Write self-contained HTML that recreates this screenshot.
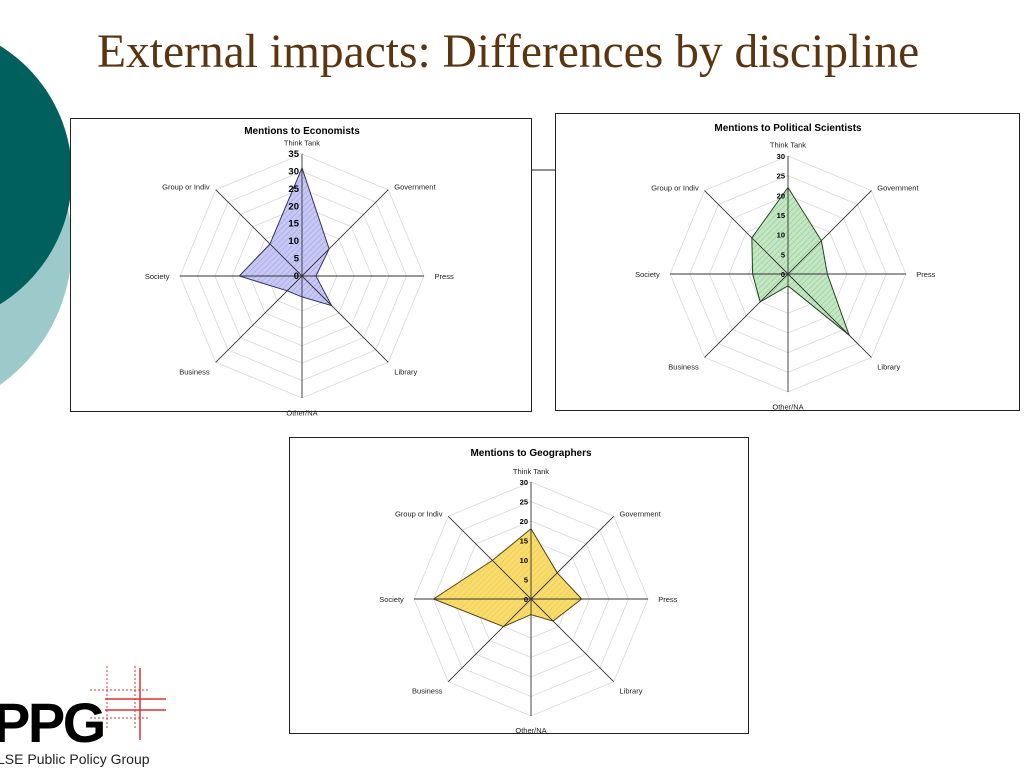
<!DOCTYPE html>
<html><head><meta charset="utf-8"><style>
body{margin:0;width:1024px;height:768px;overflow:hidden;background:#fff;position:relative;font-family:"Liberation Sans",sans-serif}
.box{position:absolute;border:1px solid #222;background:#fff;box-sizing:border-box}
</style></head><body>
<svg width="1024" height="768" style="position:absolute;left:0;top:0">
<circle cx="-100" cy="245" r="172" fill="#9ccaca"/>
<circle cx="-80" cy="175" r="152" fill="#00605d"/>
<line x1="532" y1="170" x2="555" y2="170" stroke="#222" stroke-width="1"/>
</svg>
<div style="position:absolute;left:97px;top:25px;font-family:'Liberation Serif',serif;font-size:47.5px;color:#5a3510;white-space:nowrap">External impacts: Differences by discipline</div>
<div class="box" style="left:70px;top:118px;width:462px;height:294px"></div>
<div class="box" style="left:555px;top:113px;width:465px;height:298px"></div>
<div class="box" style="left:289px;top:437px;width:460px;height:297px"></div>
<svg id="charts" width="1024" height="768" style="position:absolute;left:0;top:0">
<defs>
<pattern id="hb" width="4" height="4" patternUnits="userSpaceOnUse" patternTransform="rotate(45)"><rect width="4" height="4" fill="#c8c8f4"/><line x1="0" y1="0" x2="0" y2="4" stroke="#a8a8ec" stroke-width="1.5"/></pattern>
<pattern id="hg" width="4" height="4" patternUnits="userSpaceOnUse" patternTransform="rotate(45)"><rect width="4" height="4" fill="#c4e6c4"/><line x1="0" y1="0" x2="0" y2="4" stroke="#98d098" stroke-width="1.5"/></pattern>
<pattern id="hy" width="4" height="4" patternUnits="userSpaceOnUse" patternTransform="rotate(45)"><rect width="4" height="4" fill="#f8dc70"/><line x1="0" y1="0" x2="0" y2="4" stroke="#f0cc48" stroke-width="1.5"/></pattern>
</defs>
</svg>
<svg width="180" height="108" style="position:absolute;left:0;top:660px">
<g stroke="#e03030" stroke-width="1" stroke-dasharray="2,2"><line x1="107" y1="6" x2="107" y2="70"/><line x1="135" y1="6" x2="135" y2="70"/><line x1="90" y1="30" x2="150" y2="30"/><line x1="90" y1="58" x2="150" y2="58"/></g>
<g stroke="#e03030" stroke-width="1.5"><line x1="140" y1="8" x2="140" y2="80"/><line x1="105" y1="39" x2="166" y2="39"/><line x1="105" y1="50" x2="166" y2="50"/></g>
<text x="-7" y="82" font-family="Liberation Sans" font-weight="bold" font-size="56" fill="#000" letter-spacing="-2.5">PPG</text>
<text x="-3" y="104" font-family="Liberation Sans" font-size="14" fill="#222">LSE Public Policy Group</text>
</svg>
<script>
const categories=["Think Tank","Government","Press","Library","Other/NA","Business","Society","Group or Indiv"];
const economistsValues=[31,11,4,12,6,6,18,13];
const politicalValues=[22,12,10,22,3,10,9,13];
const geographersValues=[18,9.5,13,8,4,10,25,14];
const economistsTicks=[0,5,10,15,20,25,30,35];
const otherTicks=[0,5,10,15,20,25,30];
const NS="http://www.w3.org/2000/svg";
const svg=document.getElementById('charts');
function mk(tag,attrs,parent){const e=document.createElementNS(NS,tag);for(const k in attrs)e.setAttribute(k,attrs[k]);parent.appendChild(e);return e;}
function radar(cfg){
  const g=mk('g',{},svg);
  
  
  const max=cfg.ticks[cfg.ticks.length-1];
  const rs=v=>v/max*cfg.R;
  const pt=(i,v)=>{const a=-Math.PI/2+i*Math.PI/4;return [cfg.cx+rs(v)*Math.cos(a),cfg.cy+rs(v)*Math.sin(a)];};
  const t=mk('text',{x:cfg.cx,y:cfg.titleY,'text-anchor':'middle','font-size':10,'font-weight':'bold'},g);
  t.textContent=cfg.title;
  
  
  cfg.ticks.slice(1).forEach(tv=>{
    const p=categories.map((c,i)=>pt(i,tv).join(',')).join(' ');
    const ring=mk('polygon',{points:p,fill:'none',stroke:'#d8d8d8','stroke-width':0.8},g);
    
    
  });
  const poly=mk('polygon',{points:cfg.values.map((v,i)=>pt(i,v).join(',')).join(' '),fill:cfg.fill,stroke:cfg.stroke,'stroke-width':1},g);
  
  
  categories.forEach((c,i)=>{
    const [x,y]=pt(i,max);
    const ax=mk('line',{x1:cfg.cx,y1:cfg.cy,x2:x,y2:y,stroke:'#333','stroke-width':0.9},g);
    
    
    const [lx,ly]=pt(i,max*1.07);
    let anchor='middle';
    if(i>=1&&i<=3)anchor='start';
    if(i>=5)anchor='end';
    let dy=6;
    if(i===0)dy=0;
    if(i===2||i===6)dy=3;
    if(i===4)dy=9;
    const lb=mk('text',{x:lx+(i===2?2:i===6?-2:0),y:ly+dy,'text-anchor':anchor,'font-size':7.5,fill:'#222'},g);
    lb.textContent=c;
    
    
  });
  cfg.ticks.forEach(tv=>{
    const tk=mk('text',{x:cfg.cx-3,y:cfg.cy-rs(tv)+3,'text-anchor':'end','font-size':cfg.tickSize,'font-weight':'bold'},g);
    tk.textContent=tv;
    
    
  });
}
radar({name:'economists-radar',title:'Mentions to Economists',cx:302,cy:276,R:122,titleY:134,ticks:economistsTicks,values:economistsValues,fill:'url(#hb)',stroke:'#333366',tickSize:9.5});
radar({name:'political-scientists-radar',title:'Mentions to Political Scientists',cx:788,cy:274,R:118,titleY:131,ticks:otherTicks,values:politicalValues,fill:'url(#hg)',stroke:'#224422',tickSize:7.5});
radar({name:'geographers-radar',title:'Mentions to Geographers',cx:531,cy:599,R:117,titleY:456,ticks:otherTicks,values:geographersValues,fill:'url(#hy)',stroke:'#554411',tickSize:7.5});
</script>
</body></html>
